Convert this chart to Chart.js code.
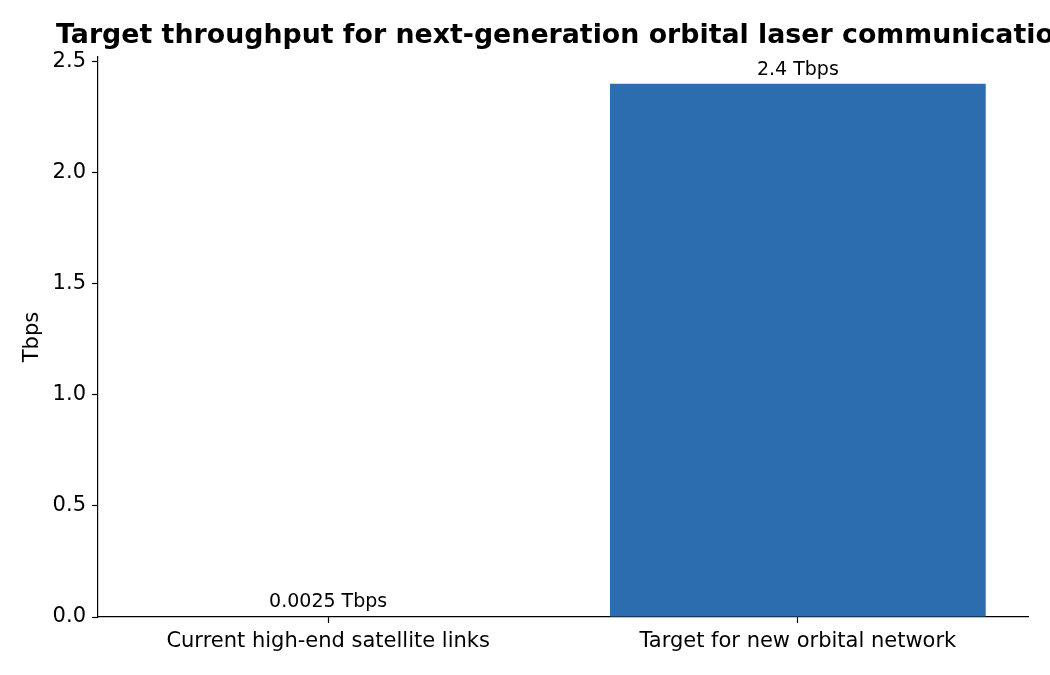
<!DOCTYPE html>
<html>
<head>
<meta charset="utf-8">
<script src="https://cdn.jsdelivr.net/npm/chart.js@4/dist/chart.umd.min.js"></script>
<style>
  html, body { margin: 0; padding: 0; background: #fff; }
  #wrap { width: 1050px; height: 675px; }
</style>
</head>
<body>
<div id="wrap"><canvas id="barChart" width="1050" height="675"></canvas></div>
<script>
const chartTitle = "Target throughput for next-generation orbital laser communications";
const categories = ["Current high-end satellite links", "Target for new orbital network"];
const throughputTbps = [0.0025, 2.4];
const barLabels = ["0.0025 Tbps", "2.4 Tbps"];
const yTicks = [0, 0.5, 1.0, 1.5, 2.0, 2.5];

const FONT = "'DejaVu Sans', sans-serif";

// title is drawn by hand so it can run off the right edge like the original
const titlePlugin = {
  id: "titlePlugin",
  afterDraw(chart) {
    const ctx = chart.ctx;
    ctx.save();
    ctx.font = "bold 26.8px " + FONT;
    ctx.fillStyle = "#000";
    ctx.textAlign = "left";
    ctx.textBaseline = "alphabetic";
    ctx.fillText(chartTitle, 56, 43);
    ctx.restore();
  }
};

const barLabelPlugin = {
  id: "barLabelPlugin",
  afterDatasetsDraw(chart) {
    const ctx = chart.ctx;
    const meta = chart.getDatasetMeta(0);
    ctx.save();
    ctx.font = "19px " + FONT;
    ctx.fillStyle = "#000";
    ctx.textAlign = "center";
    ctx.textBaseline = "alphabetic";
    meta.data.forEach((bar, i) => {
      ctx.fillText(barLabels[i], bar.x, bar.y - 9);
    });
    ctx.restore();
  }
};

const barChartCtx = document.getElementById("barChart").getContext("2d");
const barChart = new Chart(barChartCtx, {
  type: "bar",
  data: {
    datasets: [
      {
        data: categories.map((c, i) => ({ x: i, y: throughputTbps[i] })),
        backgroundColor: "#2c6db0",
        barPercentage: 0.8,
        categoryPercentage: 1.0,
      },
    ],
  },
  options: {
    responsive: false,
    animation: false,
    layout: { padding: { top: 57, right: 22, left: 0, bottom: 0 } },
    plugins: {
      legend: { display: false },
      tooltip: { enabled: false },
    },
    scales: {
      x: {
        type: "linear",
        min: -0.49,
        max: 1.49,
        offset: false,
        afterFit(scale) { scale.height = 58; },
        afterBuildTicks(scale) { scale.ticks = categories.map((c, i) => ({ value: i })); },
        ticks: {
          callback: (v) => categories[v],
          font: { family: FONT, size: 21 },
          color: "#000",
          padding: 6,
          maxRotation: 0,
          autoSkip: false,
        },
        grid: { offset: false, drawOnChartArea: false, tickLength: 6, color: "#000", tickWidth: 1.2 },
        border: { color: "#000", width: 1.2 },
      },
      y: {
        min: 0,
        max: 2.52,
        afterFit(scale) { scale.width = 98; },
        afterBuildTicks(scale) { scale.ticks = yTicks.map((v) => ({ value: v })); },
        ticks: {
          callback: (v) => v.toFixed(1),
          font: { family: FONT, size: 21 },
          color: "#000",
          padding: 6,
        },
        title: {
          display: true,
          text: "Tbps",
          font: { family: FONT, size: 21 },
          color: "#000",
          padding: { top: 20, bottom: 0 },
        },
        grid: { drawOnChartArea: false, tickLength: 6, color: "#000", tickWidth: 1.2 },
        border: { color: "#000", width: 1.2 },
      },
    },
  },
  plugins: [titlePlugin, barLabelPlugin],
});
</script>
</body>
</html>
